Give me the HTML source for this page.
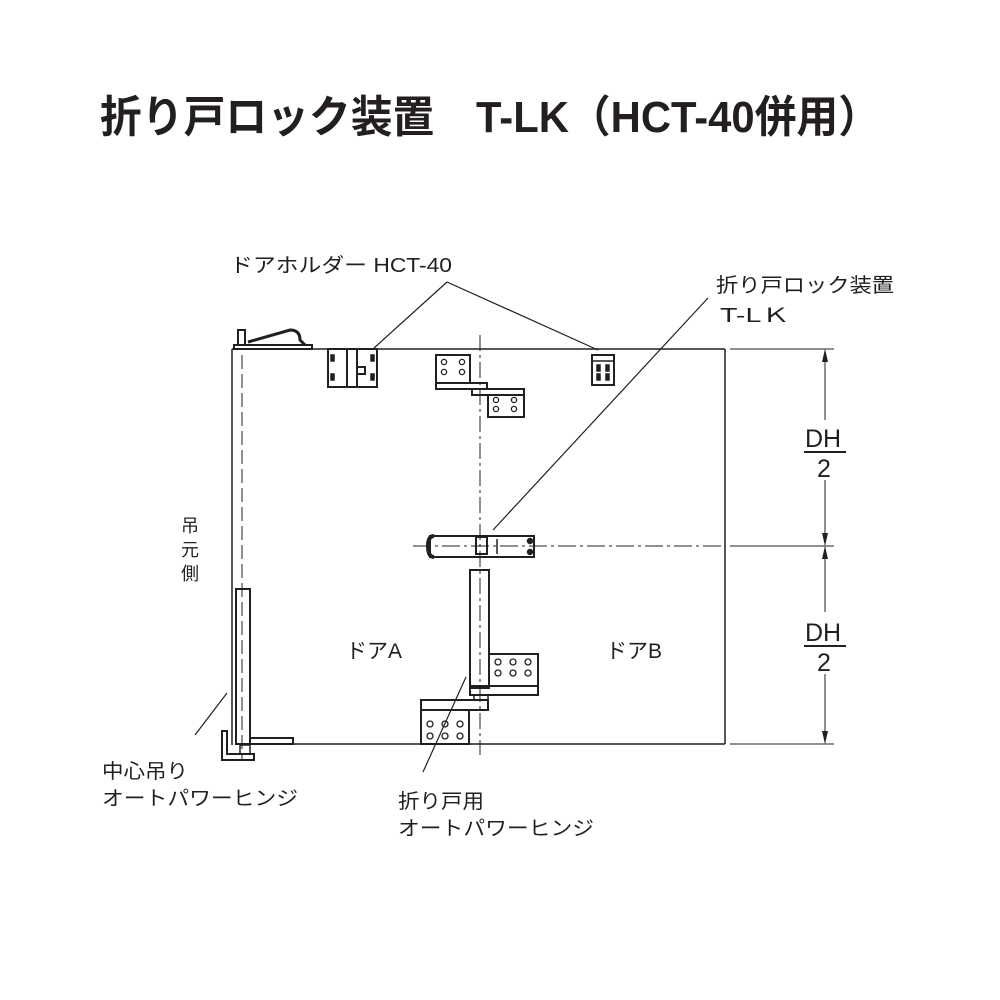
<!DOCTYPE html>
<html><head><meta charset="utf-8"><style>html,body{margin:0;padding:0;background:#fff}svg{display:block}</style></head><body>
<svg width="1000" height="1000" viewBox="0 0 1000 1000" xmlns="http://www.w3.org/2000/svg" font-family="'Liberation Sans','Noto Sans CJK JP',sans-serif">
<rect width="1000" height="1000" fill="#fff"/>
<text x="100" y="132" font-size="44" font-weight="bold" textLength="780" lengthAdjust="spacingAndGlyphs" fill="#231f20">折り戸ロック装置　T-LK（HCT-40併用）</text>
<g fill="#231f20" font-size="20">
<text x="230" y="272" textLength="222" lengthAdjust="spacingAndGlyphs">ドアホルダー HCT-40</text>
<text x="716" y="292" textLength="178" lengthAdjust="spacingAndGlyphs">折り戸ロック装置</text>
<text x="720" y="322" textLength="70" lengthAdjust="spacingAndGlyphs">T-LＫ</text>
<text x="346" y="658" font-size="21">ドアA</text>
<text x="606" y="658" font-size="21">ドアB</text>
<text x="102" y="778" textLength="86" lengthAdjust="spacingAndGlyphs">中心吊り</text>
<text x="102" y="805" textLength="196" lengthAdjust="spacingAndGlyphs">オートパワーヒンジ</text>
<text x="398" y="808" textLength="86" lengthAdjust="spacingAndGlyphs">折り戸用</text>
<text x="398" y="835" textLength="196" lengthAdjust="spacingAndGlyphs">オートパワーヒンジ</text>
<text x="181" y="532" font-size="18">吊</text>
<text x="181" y="556" font-size="18">元</text>
<text x="181" y="580" font-size="18">側</text>
<text x="805" y="447" font-size="25">DH</text>
<text x="817" y="477" font-size="25">2</text>
<text x="805" y="641" font-size="25">DH</text>
<text x="817" y="671" font-size="25">2</text>
</g>
<g stroke="#231f20" fill="none" stroke-width="1.5">
<line x1="232" y1="349" x2="725" y2="349"/>
<line x1="725" y1="349" x2="725" y2="744"/>
<line x1="293" y1="744" x2="725" y2="744"/>
<line x1="232" y1="349" x2="232" y2="745"/>
<line x1="242" y1="355" x2="242" y2="760" stroke-dasharray="14,5" stroke-width="1"/>
<line x1="480" y1="335" x2="480" y2="755" stroke-dasharray="16,4,3,4" stroke-width="1"/>
<line x1="413" y1="546" x2="725" y2="546" stroke-dasharray="18,4,3,4" stroke-width="1"/>
<line x1="730" y1="349" x2="834" y2="349" stroke-width="1"/>
<line x1="730" y1="546" x2="834" y2="546" stroke-width="1"/>
<line x1="730" y1="744" x2="834" y2="744" stroke-width="1"/>
<line x1="825" y1="350" x2="825" y2="420" stroke-width="1"/>
<line x1="825" y1="480" x2="825" y2="545" stroke-width="1"/>
<line x1="825" y1="547" x2="825" y2="612" stroke-width="1"/>
<line x1="825" y1="674" x2="825" y2="743" stroke-width="1"/>
<line x1="804" y1="452" x2="846" y2="452" stroke-width="2"/>
<line x1="804" y1="646" x2="846" y2="646" stroke-width="2"/>
<line x1="447" y1="282" x2="374" y2="348" stroke-width="1.2"/>
<line x1="447" y1="282" x2="598" y2="350" stroke-width="1.2"/>
<line x1="708" y1="298" x2="493" y2="530" stroke-width="1.2"/>
<line x1="227" y1="693" x2="195" y2="735" stroke-width="1.2"/>
<line x1="466" y1="677" x2="423" y2="772" stroke-width="1.2"/>
<rect x="234" y="345" width="78" height="4" stroke-width="2"/>
<rect x="238" y="330" width="7" height="15" stroke-width="2"/>
<path d="M248 342 L290 330 Q300 330 300 340 L305 345" stroke-width="3"/>
<rect x="328" y="349" width="49" height="38" stroke-width="2"/>
<path d="M347 349 V387 M357 349 V387 M357 367 H365 V374 H357" stroke-width="2"/>
<rect x="331" y="355" width="3" height="6" fill="#231f20"/><rect x="331" y="374" width="3" height="6" fill="#231f20"/>
<rect x="371" y="355" width="3" height="6" fill="#231f20"/><rect x="371" y="374" width="3" height="6" fill="#231f20"/>
<rect x="436" y="355" width="34" height="28" stroke-width="2"/>
<rect x="436" y="383" width="51" height="6" stroke-width="2"/>
<rect x="472" y="389" width="52" height="6" stroke-width="2"/>
<rect x="488" y="395" width="36" height="22" stroke-width="2"/>
<g stroke-width="1.3"><circle cx="444" cy="362" r="2.6"/><circle cx="462" cy="362" r="2.6"/><circle cx="444" cy="372" r="2.6"/><circle cx="462" cy="372" r="2.6"/>
<circle cx="496" cy="400" r="2.6"/><circle cx="514" cy="400" r="2.6"/><circle cx="496" cy="409" r="2.6"/><circle cx="514" cy="409" r="2.6"/></g>
<rect x="592" y="355" width="22" height="30" stroke-width="2"/>
<line x1="592" y1="361" x2="614" y2="361"/>
<rect x="597" y="365" width="3" height="6" fill="#231f20"/><rect x="606" y="365" width="3" height="6" fill="#231f20"/>
<rect x="597" y="374" width="3" height="6" fill="#231f20"/><rect x="606" y="374" width="3" height="6" fill="#231f20"/>
<rect x="430" y="536" width="104" height="21" stroke-width="2"/>
<path d="M434 536 Q428 536 428 546 Q428 557 434 557" stroke-width="4"/>
<rect x="476" y="537" width="11" height="17" stroke-width="2"/>
<line x1="497" y1="539" x2="497" y2="554"/>
<circle cx="530" cy="541" r="2.5" fill="#231f20"/><circle cx="530" cy="552" r="2.5" fill="#231f20"/>
<rect x="236" y="589" width="14" height="155" stroke-width="2"/>
<rect x="250" y="738" width="43" height="6" stroke-width="2"/>
<path d="M222 731 V760 H254 V754 H227 V731 Z" stroke-width="2"/>
<rect x="240" y="745" width="10" height="9" stroke-width="1.5"/>
<rect x="470" y="570" width="19" height="118" stroke-width="2"/>
<rect x="489" y="654" width="49" height="32" stroke-width="2"/>
<rect x="470" y="686" width="68" height="9" stroke-width="2"/>
<rect x="474" y="695" width="14" height="5" stroke-width="1.5"/>
<rect x="421" y="700" width="67" height="10" stroke-width="2"/>
<rect x="421" y="710" width="48" height="34" stroke-width="2"/>
<g stroke-width="1.3"><circle cx="498" cy="662" r="3"/><circle cx="513" cy="662" r="3"/><circle cx="528" cy="662" r="3"/>
<circle cx="498" cy="673" r="3"/><circle cx="513" cy="673" r="3"/><circle cx="528" cy="673" r="3"/>
<circle cx="430" cy="724" r="3"/><circle cx="445" cy="724" r="3"/><circle cx="460" cy="724" r="3"/>
<circle cx="430" cy="736" r="3"/><circle cx="445" cy="736" r="3"/><circle cx="460" cy="736" r="3"/></g>
</g>
<g fill="#231f20">
<path d="M825 349 L822 362 L828 362 Z"/><path d="M825 546 L822 533 L828 533 Z"/>
<path d="M825 546 L822 559 L828 559 Z"/><path d="M825 744 L822 731 L828 731 Z"/>
</g>
</svg>
</body></html>
